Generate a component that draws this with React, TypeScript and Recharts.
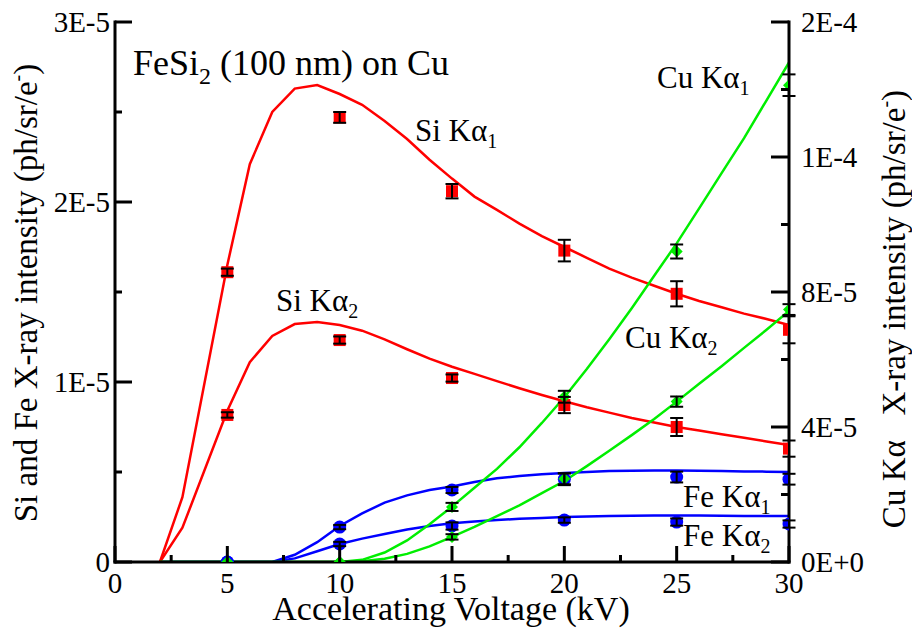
import React from 'react';
import { ComposedChart, Line, Scatter, XAxis, YAxis, ErrorBar } from 'recharts';

const FONT = '"Liberation Serif", "Times New Roman", serif';

// both y axes are kept in units of 1E-5
const xTicks = [0, 2.5, 5, 7.5, 10, 12.5, 15, 17.5, 20, 22.5, 25, 27.5, 30];
const xTickLabels = ['0', '5', '10', '15', '20', '25', '30'];
const leftTicks = [0, 0.5, 1, 1.5, 2, 2.5, 3];
const leftTickLabels = ['0', '1E-5', '2E-5', '3E-5'];
const rightTicks = [0, 2.5, 5, 7.5, 10, 12.5, 15, 17.5, 20];
const rightTickLabels = ['0E+0', '4E-5', '8E-5', '1E-4', '2E-4'];

// simulated curves
const siKv = [2, 3, 5, 6, 7, 8, 9, 10, 11, 12, 13, 14, 15, 16, 17, 18, 19, 20, 21, 22, 23, 24, 25, 26, 27, 28, 29, 30];
const siKa1Curve = [0, 0.36, 1.65, 2.21, 2.5, 2.63, 2.65, 2.6, 2.54, 2.45, 2.35, 2.235, 2.13, 2.03, 1.956, 1.88, 1.81, 1.75, 1.69, 1.63, 1.58, 1.535, 1.49, 1.45, 1.415, 1.38, 1.35, 1.317];
const siKa2Curve = [0, 0.19, 0.84, 1.11, 1.256, 1.322, 1.333, 1.317, 1.285, 1.237, 1.182, 1.13, 1.085, 1.045, 1.005, 0.965, 0.928, 0.893, 0.86, 0.83, 0.8, 0.775, 0.75, 0.73, 0.71, 0.69, 0.67, 0.65];

const feKv = [2, 7, 8, 9, 10, 11, 12, 13, 14, 15, 16, 17, 18, 19, 20, 21, 22, 23, 24, 25, 26, 27, 28, 29, 30];
const feKa1Curve = [0, 0, 0.04, 0.11, 0.2, 0.27, 0.33, 0.37, 0.4, 0.42, 0.445, 0.465, 0.478, 0.488, 0.495, 0.5, 0.505, 0.507, 0.508, 0.508, 0.507, 0.505, 0.503, 0.502, 0.5];
const feKa2Curve = [0, 0, 0.02, 0.06, 0.1, 0.13, 0.155, 0.18, 0.2, 0.215, 0.225, 0.233, 0.24, 0.245, 0.25, 0.253, 0.255, 0.257, 0.258, 0.258, 0.258, 0.257, 0.256, 0.256, 0.255];

const cuKv = [2, 10, 11, 12, 13, 14, 15, 16, 17, 18, 19, 20, 21, 22, 23, 24, 25, 26, 27, 28, 29, 30];
const cuKa1Curve = [0, 0, 0.08, 0.35, 0.8, 1.4, 2.05, 2.75, 3.45, 4.25, 5.15, 6.1, 7.15, 8.25, 9.4, 10.6, 11.8, 13.1, 14.4, 15.7, 17.1, 18.5];
const cuKa2Curve = [0, 0, 0.03, 0.12, 0.3, 0.58, 0.93, 1.3, 1.7, 2.1, 2.55, 3.0, 3.55, 4.12, 4.7, 5.3, 5.94, 6.6, 7.25, 7.93, 8.6, 9.3];

// measurements
const pointKv = [5, 10, 15, 20, 25, 30];
const siKa1Pts = [1.61, 2.47, 2.06, 1.73, 1.49, 1.29];
const siKa1Err = [0.02, 0.03, 0.04, 0.06, 0.07, 0.075];
const siKa2Pts = [0.817, 1.233, 1.022, 0.872, 0.75, 0.63];
const siKa2Err = [0.015, 0.02, 0.02, 0.045, 0.05, 0.045];
const feKa1Pts = [0, 0.194, 0.4, 0.46, 0.472, 0.46];
const feKa1Err = [0, 0.012, 0.017, 0.033, 0.03, 0.03];
const feKa2Pts = [0, 0.1, 0.2, 0.233, 0.222, 0.211];
const feKa2Err = [0, 0.012, 0.02, 0.015, 0.02, 0.02];
const cuKa1Pts = [0, 0, 2.04, 6.12, 11.5, 17.66];
const cuKa1Err = [0, 0, 0.15, 0.22, 0.26, 0.4];
const cuKa2Pts = [0, 0, 0.93, 3.08, 5.94, 9.35];
const cuKa2Err = [0, 0, 0.1, 0.2, 0.19, 0.2];

const curve = (kv: number[], ys: number[]) => kv.map((x, i) => ({ x, y: ys[i] }));
const points = (ys: number[], err: number[]) => pointKv.map((x, i) => ({ x, y: ys[i], err: err[i] }));

const RED = '#ff0000';
const BLUE = '#0000ff';
const GREEN = '#00ee00';

const txt = { fontFamily: FONT, fill: '#000', whiteSpace: 'pre' } as const;

const BottomTick = ({ x, y, payload }: any) => {
  const v = payload.value;
  const major = v % 5 === 0;
  return (
    <g>
      <line x1={x} y1={y} x2={x} y2={y - (major ? 16 : 7)} stroke="#000" strokeWidth={3} />
      {major && (
        <text x={x} y={y + 31} textAnchor="middle" fontSize={29} style={txt}>
          {xTickLabels[v / 5]}
        </text>
      )}
    </g>
  );
};

const TopTick = ({ x, y, payload }: any) => {
  const major = payload.value % 5 === 0;
  return <line x1={x} y1={y} x2={x} y2={y + (major ? 17 : 7)} stroke="#000" strokeWidth={3} />;
};

const LeftTick = ({ x, y, payload }: any) => {
  const v = payload.value;
  const major = v % 1 === 0;
  return (
    <g>
      <line x1={x} y1={y} x2={x + (major ? 17 : 7)} y2={y} stroke="#000" strokeWidth={3} />
      {major && (
        <text x={x - 5} y={y} dy="0.35em" textAnchor="end" fontSize={29} style={txt}>
          {leftTickLabels[v]}
        </text>
      )}
    </g>
  );
};

const RightTick = ({ x, y, payload }: any) => {
  const v = payload.value;
  const major = v % 5 === 0;
  return (
    <g>
      <line x1={x} y1={y} x2={x - (major ? 18 : 8)} y2={y} stroke="#000" strokeWidth={3} />
      {major && (
        <text x={x + 12} y={y} dy="0.35em" textAnchor="start" fontSize={29} style={txt}>
          {rightTickLabels[v / 5]}
        </text>
      )}
    </g>
  );
};

const Square = ({ cx, cy }: any) => <rect x={cx - 6} y={cy - 6} width={12} height={12} fill={RED} />;
const Dot = ({ cx, cy }: any) => <circle cx={cx} cy={cy} r={6.5} fill={BLUE} />;
const Diamond = ({ cx, cy }: any) => (
  <polygon points={`${cx},${cy - 6} ${cx + 6},${cy} ${cx},${cy + 6} ${cx - 6},${cy}`} fill={GREEN} />
);
const Nothing = () => <g />;

const lineProps = {
  dot: false,
  activeDot: false,
  isAnimationActive: false,
  type: 'linear' as const,
  strokeWidth: 2.5,
  xAxisId: 'b',
};

function SeriesLabel({ x, y, name, sub }: { x: number; y: number; name: string; sub: string }) {
  return (
    <text x={x} y={y} fontSize={31} style={txt}>
      {name}
      <tspan fontSize={20} dy={7}>{sub}</tspan>
    </text>
  );
}

export default function App() {
  const errBars = [
    { data: points(siKa1Pts, siKa1Err), yAxisId: 'l' },
    { data: points(siKa2Pts, siKa2Err), yAxisId: 'l' },
    { data: points(feKa1Pts, feKa1Err), yAxisId: 'l' },
    { data: points(feKa2Pts, feKa2Err), yAxisId: 'l' },
    { data: points(cuKa1Pts, cuKa1Err), yAxisId: 'r' },
    { data: points(cuKa2Pts, cuKa2Err), yAxisId: 'r' },
  ];

  const axisLine = { stroke: '#000', strokeWidth: 3, strokeLinecap: 'square' as const };

  return (
    <div style={{ position: 'fixed', left: 0, top: 0, width: 912, height: 628, background: '#fff' }}>
      <ComposedChart width={912} height={628} margin={{ top: 22, right: 0, bottom: 0, left: 0 }}>
        <XAxis
          xAxisId="b"
          type="number"
          dataKey="x"
          domain={[0, 30]}
          ticks={xTicks}
          interval={0}
          allowDataOverflow
          height={66}
          tickSize={0}
          tickMargin={0}
          tickLine={false}
          axisLine={axisLine}
          tick={(p: any) => <BottomTick {...p} />}
        />
        <XAxis
          xAxisId="t"
          orientation="top"
          type="number"
          dataKey="x"
          domain={[0, 30]}
          ticks={xTicks}
          interval={0}
          allowDataOverflow
          height={0}
          tickSize={0}
          tickMargin={0}
          tickLine={false}
          axisLine={axisLine}
          tick={(p: any) => <TopTick {...p} />}
        />
        <YAxis
          yAxisId="l"
          type="number"
          domain={[0, 3]}
          ticks={leftTicks}
          interval={0}
          allowDataOverflow
          width={115}
          tickSize={0}
          tickMargin={0}
          tickLine={false}
          axisLine={axisLine}
          tick={(p: any) => <LeftTick {...p} />}
        />
        <YAxis
          yAxisId="r"
          orientation="right"
          type="number"
          domain={[0, 20]}
          ticks={rightTicks}
          interval={0}
          allowDataOverflow
          width={123}
          tickSize={0}
          tickMargin={0}
          tickLine={false}
          axisLine={axisLine}
          tick={(p: any) => <RightTick {...p} />}
        />

        <Line {...lineProps} yAxisId="l" data={curve(feKv, feKa1Curve)} dataKey="y" stroke={BLUE} />
        <Line {...lineProps} yAxisId="l" data={curve(feKv, feKa2Curve)} dataKey="y" stroke={BLUE} />
        <Line {...lineProps} yAxisId="l" data={curve(siKv, siKa1Curve)} dataKey="y" stroke={RED} />
        <Line {...lineProps} yAxisId="l" data={curve(siKv, siKa2Curve)} dataKey="y" stroke={RED} />
        <Line {...lineProps} yAxisId="r" data={curve(cuKv, cuKa1Curve)} dataKey="y" stroke={GREEN} />
        <Line {...lineProps} yAxisId="r" data={curve(cuKv, cuKa2Curve)} dataKey="y" stroke={GREEN} />

        <Scatter xAxisId="b" yAxisId="l" data={points(siKa1Pts, siKa1Err)} dataKey="y" shape={Square} isAnimationActive={false} />
        <Scatter xAxisId="b" yAxisId="l" data={points(siKa2Pts, siKa2Err)} dataKey="y" shape={Square} isAnimationActive={false} />
        <Scatter xAxisId="b" yAxisId="l" data={points(feKa1Pts, feKa1Err)} dataKey="y" shape={Dot} isAnimationActive={false} />
        <Scatter xAxisId="b" yAxisId="l" data={points(feKa2Pts, feKa2Err)} dataKey="y" shape={Dot} isAnimationActive={false} />
        <Scatter xAxisId="b" yAxisId="r" data={points(cuKa1Pts, cuKa1Err)} dataKey="y" shape={Diamond} isAnimationActive={false} />
        <Scatter xAxisId="b" yAxisId="r" data={points(cuKa2Pts, cuKa2Err)} dataKey="y" shape={Diamond} isAnimationActive={false} />

        {errBars.map((s, i) => (
          <Scatter key={i} xAxisId="b" yAxisId={s.yAxisId} data={s.data} dataKey="y" shape={Nothing} isAnimationActive={false}>
            <ErrorBar
              dataKey="err"
              direction="y"
              width={6.5}
              stroke="#000"
              strokeWidth={2}
              isAnimationActive={false}
              {...({ zIndex: 2000 } as any)}
            />
          </Scatter>
        ))}
      </ComposedChart>

      <svg
        width={912}
        height={628}
        style={{ position: 'absolute', left: 0, top: 0, pointerEvents: 'none' }}
      >
        <text x={133} y={75} fontSize={36} style={txt}>
          FeSi
          <tspan fontSize={24} dy={9}>2</tspan>
          <tspan dy={-9}>{' (100 nm) on Cu'}</tspan>
        </text>
        <SeriesLabel x={415} y={141} name="Si Kα" sub="1" />
        <SeriesLabel x={276} y={311} name="Si Kα" sub="2" />
        <SeriesLabel x={657} y={88} name="Cu Kα" sub="1" />
        <SeriesLabel x={625} y={348} name="Cu Kα" sub="2" />
        <SeriesLabel x={683} y={507} name="Fe Kα" sub="1" />
        <SeriesLabel x={683} y={546} name="Fe Kα" sub="2" />

        <text x={451} y={620} textAnchor="middle" fontSize={34} style={txt}>
          Accelerating Voltage (kV)
        </text>
        <text x={37} y={293} textAnchor="middle" transform="rotate(-90, 37, 293)" fontSize={33} style={txt}>
          Si and Fe X-ray intensity (ph/sr/e
          <tspan fontSize={20} dy={-13}>-</tspan>
          <tspan dy={13}>)</tspan>
        </text>
        <text x={905} y={309} textAnchor="middle" transform="rotate(-90, 905, 309)" fontSize={33} style={txt}>
          {'Cu Kα   X-ray intensity (ph/sr/e'}
          <tspan fontSize={20} dy={-13}>-</tspan>
          <tspan dy={13}>)</tspan>
        </text>
      </svg>
    </div>
  );
}
